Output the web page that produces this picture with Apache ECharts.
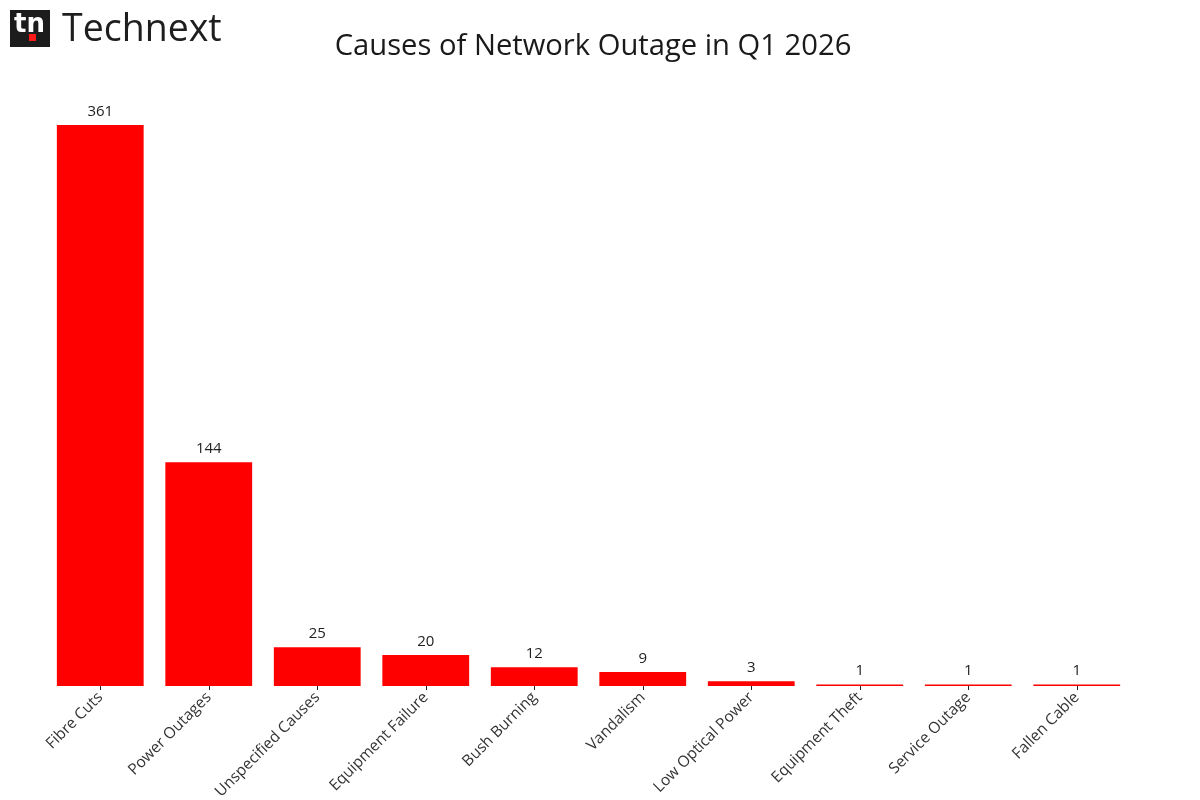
<!DOCTYPE html>
<html>
<head>
<meta charset="utf-8">
<script src="https://cdn.jsdelivr.net/npm/echarts@6/dist/echarts.min.js"></script>
<style>
html,body{margin:0;padding:0;background:#fff;}
#chart{width:1200px;height:800px;}
</style>
</head>
<body>
<div id="chart"></div>
<script>
const categories = ["Fibre Cuts","Power Outages","Unspecified Causes","Equipment Failure","Bush Burning","Vandalism","Low Optical Power","Equipment Theft","Service Outage","Fallen Cable"];
const values = [361,144,25,20,12,9,3,1,1,1];
const titleText = "Causes of Network Outage in Q1 2026";
const brandText = "Technext";

const chart = echarts.init(document.getElementById('chart'));
chart.setOption({
  backgroundColor: '#ffffff',
  animation: false,
  title: {
    text: titleText,
    left: 588, top: 27, textAlign: 'center',
    textStyle: {fontFamily: 'Open Sans', fontSize: 29.2, fontWeight: 'normal', color: '#1a1a1a'}
  },
  graphic: [
    {type: 'rect', left: 10, top: 10, shape: {width: 40, height: 37}, style: {fill: '#1c1c1c'}},
    {type: 'text', left: 14, top: 12, style: {text: 'tn', fill: '#ffffff', font: 'bold 26px "DejaVu Sans"'}},
    {type: 'rect', left: 29, top: 34, shape: {width: 7, height: 7}, style: {fill: '#ff1a1a'}},
    {type: 'text', left: 62, top: 11, style: {text: brandText, fill: '#1e1e1e', font: '37.5px "Open Sans"'}}
  ],
  grid: {left: 46, right: 69, top: 125, bottom: 114, containLabel: false, outerBoundsMode: 'none'},
  xAxis: {
    type: 'category',
    data: categories,
    axisLine: {show: false},
    axisTick: {show: true, alignWithLabel: true, length: 4, lineStyle: {color: '#222'}},
    axisLabel: {rotate: 45, fontFamily: 'Open Sans', fontSize: 15.5, color: '#333', margin: 9, interval: 0}
  },
  yAxis: {
    type: 'value', min: 0, max: 361,
    show: false, splitLine: {show: false}
  },
  series: [{
    type: 'bar',
    data: values,
    barCategoryGap: '20%',
    itemStyle: {color: '#ff0000'},
    label: {show: true, position: 'top', distance: 6, fontFamily: 'Open Sans', fontSize: 15, color: '#222'}
  }]
});
</script>
</body>
</html>
